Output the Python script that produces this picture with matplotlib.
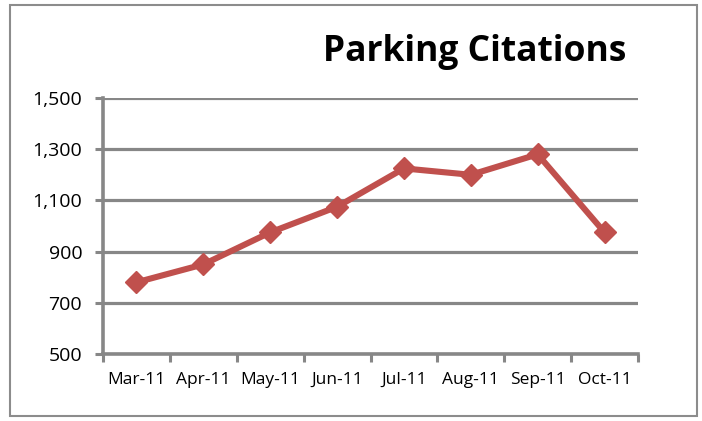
import matplotlib
matplotlib.use("Agg")
import matplotlib.pyplot as plt
from matplotlib.patches import Rectangle
from matplotlib import font_manager

months = ["Mar-11", "Apr-11", "May-11", "Jun-11", "Jul-11", "Aug-11", "Sep-11", "Oct-11"]
citations = [780, 850, 975, 1075, 1225, 1200, 1280, 975]
yticks = [500, 700, 900, 1100, 1300, 1500]
title = "Parking Citations"

names = {f.name for f in font_manager.fontManager.ttflist}
fam = "Liberation Sans Narrow" if "Liberation Sans Narrow" in names else "Open Sans"
plt.rcParams['font.family'] = [fam, 'DejaVu Sans']

fig = plt.figure(figsize=(7.02, 4.21), dpi=100)
fig.patches.append(Rectangle((10/702, 5/421), 687/702, 411/421, transform=fig.transFigure,
                             fill=False, edgecolor="#8c8c8c", linewidth=1.5))
ax = fig.add_axes([103/702, 1-354/421, 535/702, 256/421])

gray = "#878787"
x = list(range(len(months)))
ax.set_xlim(-0.5, len(months) - 0.5)
ax.set_ylim(500, 1500)
ax.set_yticks(yticks)
ax.set_yticklabels([f"{v:,}" for v in yticks])
ax.yaxis.grid(True, color=gray, linewidth=2.3)
ax.set_axisbelow(True)
ax.plot(x, citations, color="#C0504D", linewidth=4.4, marker="D", markersize=11, zorder=3)

ax.set_xticks([i - 0.5 for i in range(len(months) + 1)])
ax.set_xticklabels([])
ax.set_xticks(x, minor=True)
ax.set_xticklabels(months, minor=True)
ax.tick_params(axis="x", which="minor", length=0, pad=13, labelsize=12.5)
ax.tick_params(axis="x", which="major", length=6, width=2.2, color=gray)
ax.tick_params(axis="y", length=6, width=2.2, color=gray, labelsize=14, pad=9)

for s in ["top", "right"]:
    ax.spines[s].set_visible(False)
for s in ["left", "bottom"]:
    ax.spines[s].set_color(gray)
    ax.spines[s].set_linewidth(2.6)

fig.text(475/702, 1-52/421, title, ha="center", va="center", fontsize=25.5, fontweight="bold")
fig.savefig("out.png", dpi=100)
